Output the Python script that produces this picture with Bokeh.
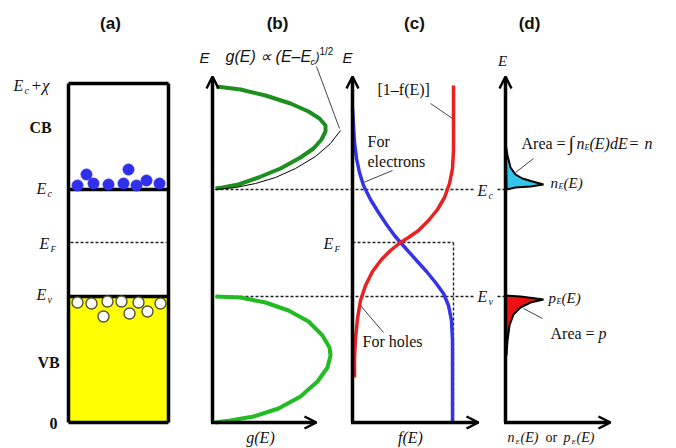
from bokeh.plotting import figure
from bokeh.models import Range1d, Arrow, OpenHead, ColumnDataSource
from bokeh.embed import file_html
from bokeh.resources import INLINE
from bokeh.core.properties import value

# ---- energy levels of the schematic (rows, screen px) ----
E_top = 83
E_c = 189
E_F = 242
E_v = 296
E_zero = 422

# ---- (a) carriers ----
electron_x = [77, 86, 93, 108, 123, 128, 136, 146, 159]
electron_y = [185, 174, 183, 184, 183, 169, 185, 180, 183]
hole_x = [77, 91, 107, 121, 138, 160, 103, 129, 147]
hole_y = [302, 303, 301, 301, 302, 303, 316, 313, 311]

# ---- (b) density of states ----
gc_x = [216, 240, 265, 290, 308, 319, 325, 325, 321, 313, 300, 280, 258, 238, 222, 215]
gc_y = [86, 89, 95, 103, 111, 118, 125, 131, 139, 148, 157, 168, 177, 184, 187, 188]
sqrt_x = [215, 235, 255, 275, 295, 315, 330, 340]
sqrt_y = [189, 187, 183, 177, 168, 156, 143, 130]
gv_x = [215, 240, 265, 288, 308, 322, 329, 330, 327, 317, 300, 278, 253, 230, 215]
gv_y = [296, 297, 302, 310, 321, 335, 347, 355, 367, 381, 396, 408, 416, 420, 422]

# ---- (c) Fermi function ----
f_x = [352, 353, 354, 356, 359, 363, 370, 378, 386, 394, 400, 408, 417, 426, 435, 443, 448, 451, 452, 452]
f_y = [108, 125, 142, 158, 172, 185, 199, 212, 224, 235, 242, 251, 261, 271, 282, 293, 305, 320, 340, 422]
h_x = [453, 453, 452, 449, 444, 437, 428, 418, 408, 400, 390, 381, 372, 365, 360, 357, 355, 354, 354]
h_y = [85, 150, 168, 183, 197, 209, 220, 230, 237, 242, 250, 259, 271, 285, 300, 318, 338, 358, 377]

# ---- (d) carrier distributions ----
nE_x = [505, 507, 510, 515, 522, 532, 543, 530, 515, 506]
nE_y = [143, 155, 167, 174, 178, 181, 184, 186, 187, 189]
pE_x = [505, 520, 543, 530, 520, 513, 509, 507, 506]
pE_y = [295, 296, 299, 302, 307, 314, 325, 340, 355]

SERIF = "Liberation Serif"
SANS = "Liberation Sans"

p = figure(width=676, height=448, x_range=Range1d(0, 676), y_range=Range1d(448, 0),
           output_backend="svg", toolbar_location=None, min_border=0,
           x_axis_type=None, y_axis_type=None, outline_line_color=None)
p.grid.visible = False
p.background_fill_color = "white"
p.border_fill_color = "white"

# ---------- panel (a) ----------
ax0, ax1 = 68, 168
p.quad(left=ax0, right=ax1, top=E_v, bottom=E_zero, fill_color="#ffff00", line_color=None)
p.segment(x0=[ax0, ax1, ax0, ax0, ax0, ax0], y0=[E_top, E_top, E_top, E_c, E_v, E_zero],
          x1=[ax0, ax1, ax1, ax1, ax1, ax1], y1=[E_zero, E_zero, E_top, E_c, E_v, E_zero],
          line_color="black", line_width=3.5)
p.segment(x0=[ax0 + 2], y0=[E_F], x1=[ax1 - 2], y1=[E_F], line_color="#222222",
          line_width=1.4, line_dash="3 2")
p.scatter(electron_x, electron_y, size=11, fill_color="#3030ec", line_color="#3030ec")
p.scatter(hole_x, hole_y, size=11, fill_color="white", line_color="#555533", line_width=1.4)

# ---------- axes with arrows (b, c, d) ----------
for xa, xe in [(212, 316), (352, 478), (505, 610)]:
    p.add_layout(Arrow(end=OpenHead(size=12, line_width=2.5), x_start=xa, y_start=E_zero,
                       x_end=xa, y_end=76, line_width=3.5))
    p.add_layout(Arrow(end=OpenHead(size=12, line_width=2.5), x_start=xa - 1.5, y_start=E_zero,
                       x_end=xe, y_end=E_zero, line_width=3.5))

# dashed level lines
p.segment(x0=[215, 497, 215, 497, 352, 453], y0=[E_c, E_c, E_v, E_v, E_F, E_F],
          x1=[475, 505, 475, 505, 453, 453], y1=[E_c, E_c, E_v, E_v, E_F, E_zero],
          line_color="#222222", line_width=1.4, line_dash="3 2")

# ---------- panel (b) ----------
p.line(gc_x, gc_y, line_color="#1e8f1e", line_width=4)
p.line(sqrt_x, sqrt_y, line_color="black", line_width=1)
p.line(gv_x, gv_y, line_color="#22bb22", line_width=4)
p.segment(x0=[316], y0=[66], x1=[339], y1=[128], line_color="#444444", line_width=1)

# ---------- panel (c) ----------
p.line(f_x, f_y, line_color="#3434e6", line_width=3.5)
p.line(h_x, h_y, line_color="#e82222", line_width=3.5)
p.segment(x0=[430, 363, 383], y0=[103, 182, 332], x1=[452, 392, 360], y1=[118, 170, 305],
          line_color="#444444", line_width=1)

# ---------- panel (d) ----------
p.patch(nE_x, nE_y, fill_color="#33c4ea", line_color="black", line_width=2)
p.patch(pE_x, pE_y, fill_color="#ee1111", line_color="black", line_width=2)
p.segment(x0=[515, 523], y0=[172, 308], x1=[533, 542], y1=[158, 318],
          line_color="#444444", line_width=1)

# ---------- texts ----------
T = dict(x=[], y=[], text=[], size=[], style=[], font=[], align=[])


def t(x, y, s, size=14, style="italic", font=SERIF, align="left"):
    T["x"].append(x); T["y"].append(y); T["text"].append(s)
    T["size"].append(f"{size}px"); T["style"].append(style)
    T["font"].append(font); T["align"].append(align)


# titles
for xx, s in [(110, "(a)"), (277, "(b)"), (414, "(c)"), (529, "(d)")]:
    t(xx, 23, s, 17, "bold", SANS, "center")

# panel (a) labels
t(13, 85, "E", 16); t(24, 90, "c", 10); t(30, 85, "+\u03c7", 17)
t(40, 127, "CB", 16, "bold", SERIF, "center")
t(36, 188, "E", 16); t(47, 193, "c", 10)
t(39, 243, "E", 16); t(50, 248, "F", 9)
t(36, 294, "E", 16); t(47, 299, "v", 10)
t(48, 362, "VB", 16, "bold", SERIF, "center")
t(53, 423, "0", 16, "bold", SERIF, "center")

# panel (b)
t(204, 57, "E", 15, "italic", SANS, "center")
t(225, 56, "g(E) \u221d (E\u2013E", 16, "italic", SANS)
t(310, 61, "c", 9, "italic", SANS); t(315, 56, ")", 12, "italic", SANS)
t(319, 51, "1/2", 10, "normal", SANS)
t(260, 437, "g(E)", 16, "italic", SERIF, "center")

# panel (c)
t(347, 57, "E", 15, "italic", SANS, "center")
t(377, 89, "[1\u2013f(E)]", 16, "normal", SERIF)
t(367, 141, "For", 16, "normal", SERIF)
t(367, 161, "electrons", 16, "normal", SERIF)
t(362, 341, "For holes", 16, "normal", SERIF)
t(323, 243, "E", 16); t(334, 248, "F", 9)
t(477, 190, "E", 16); t(488, 195, "c", 10)
t(477, 296, "E", 16); t(488, 301, "v", 10)
t(410, 437, "f(E)", 16, "italic", SERIF, "center")

# panel (d)
t(502, 60, "E", 15, "italic", SERIF, "center")
t(521, 143, "Area = ", 16, "normal", SERIF)
t(568, 142, "\u222b", 20, "normal", SERIF)
t(576, 143, "n", 16); t(584, 147, "E", 8); t(589, 143, "(E)dE", 16)
t(629, 143, "= ", 16, "normal", SERIF); t(644, 143, "n", 16)
t(550, 182, "n", 15); t(558, 186, "E", 8); t(563, 182, "(E)", 15)
t(548, 297, "p", 15); t(556, 301, "E", 8); t(561, 297, "(E)", 15)
t(550, 333, "Area = ", 16, "normal", SERIF); t(598, 333, "p", 16)
t(507, 437, "n", 14); t(515, 441, "E", 7); t(520, 437, "(E)", 14)
t(545, 437, "or", 14, "normal", SERIF)
t(563, 437, "p", 14); t(571, 441, "E", 7); t(576, 437, "(E)", 14)

src = ColumnDataSource(T)
p.text(x="x", y="y", text="text", source=src, text_font="font", text_font_size="size",
       text_font_style="style", text_align="align", text_baseline="middle",
       text_color="#111111")

open("out.html", "w").write(file_html(p, INLINE))
